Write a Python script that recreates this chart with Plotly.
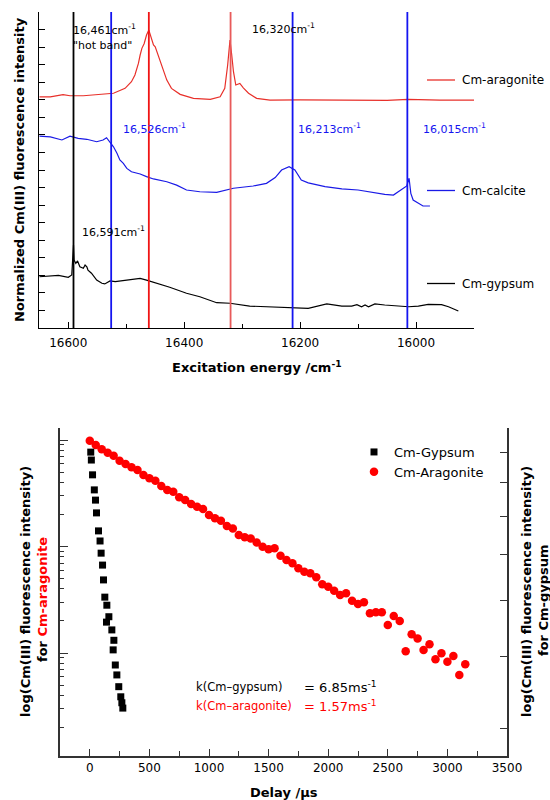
import plotly.graph_objects as go

W, H = 550, 800
FONT = "DejaVu Sans"

# ---------------- top panel: excitation spectra ----------------
arag_x = [16650, 16631, 16609, 16597, 16574, 16545, 16522, 16502, 16491, 16485, 16479, 16476,
          16473, 16469, 16465, 16461, 16458, 16453, 16450, 16447, 16442, 16436, 16430, 16422,
          16407, 16384, 16355, 16338, 16330, 16325, 16321, 16318, 16315, 16311, 16304, 16298,
          16289, 16275, 16252, 16200, 16150, 16100, 16050, 16014, 15959, 15900]
arag_y = [12.17, 12.17, 12.29, 12.23, 12.23, 12.29, 12.37, 12.65, 13.03, 13.41, 14.07, 14.55,
          14.93, 15.21, 15.69, 15.97, 15.69, 15.12, 15.02, 14.73, 14.36, 13.69, 13.12, 12.65,
          12.31, 12.08, 12.02, 12.17, 12.65, 13.98, 15.40, 14.55, 13.60, 12.84, 12.93, 12.68,
          12.37, 12.08, 11.98, 12.00, 11.98, 12.00, 11.97, 12.02, 11.98, 11.98]

calc_x = [16650, 16631, 16611, 16597, 16583, 16568, 16551, 16540, 16534, 16528, 16522, 16516,
          16511, 16505, 16499, 16491, 16482, 16476, 16465, 16453, 16430, 16413, 16396, 16373,
          16344, 16315, 16281, 16258, 16243, 16232, 16219, 16209, 16198, 16186, 16157, 16128,
          16100, 16071, 16054, 16039, 16031, 16022, 16016, 16012, 16009, 16005, 15996, 15988,
          15976]
calc_y = [9.93, 9.89, 9.71, 9.93, 9.80, 9.75, 9.61, 9.71, 9.84, 9.61, 9.32, 8.95,
          8.57, 8.38, 8.09, 7.90, 7.84, 7.77, 7.62, 7.49, 7.33, 7.14, 6.86, 6.76,
          6.73, 6.96, 7.09, 7.24, 7.57, 8.00, 8.19, 8.00, 7.43, 7.27, 7.05, 6.92,
          6.86, 6.70, 6.61, 6.57, 6.76, 6.96, 7.09, 7.53, 6.67, 6.29, 6.10, 5.95,
          5.95]

gyps_x = [16650, 16632, 16617, 16600, 16594, 16591, 16590, 16587, 16584, 16580, 16574, 16571,
          16568, 16566, 16560, 16551, 16542, 16537, 16528, 16519, 16499, 16476, 16465, 16447,
          16425, 16396, 16373, 16344, 16321, 16287, 16243, 16215, 16186, 16154, 16128, 16111,
          16102, 16094, 16088, 16082, 16071, 16054, 16036, 16013, 15996, 15979, 15956, 15944,
          15927]
gyps_y = [1.92, 1.96, 2.00, 1.89, 2.02, 3.73, 2.87, 2.68, 2.82, 2.49, 2.40, 2.59,
          2.49, 2.30, 2.12, 1.73, 1.55, 1.51, 1.68, 1.64, 1.73, 1.83, 1.73, 1.55,
          1.32, 0.98, 0.78, 0.44, 0.41, 0.25, 0.21, 0.18, 0.12, 0.37, 0.25, 0.25,
          0.33, 0.21, 0.31, 0.21, 0.37, 0.31, 0.25, 0.21, 0.25, 0.35, 0.33, 0.21,
          -0.03]

line_pos = [16591, 16526, 16461, 16320, 16213, 16015]
line_cols = ["#000000", "#1414f0", "#f01414", "#e85a5a", "#1414f0", "#1414f0"]

spec_names = ["Cm-aragonite", "Cm-calcite", "Cm-gypsum"]
spec_cols = ["#e8302a", "#1a1ae6", "#000000"]

# ---------------- bottom panel: lifetime decays ----------------
dec_arag_t = [0, 50, 100, 150, 200, 250, 300, 350, 400, 450, 500, 550, 600, 650, 700, 750,
              800, 850, 900, 950, 1000, 1050, 1100, 1150, 1200, 1250, 1300, 1350, 1400, 1450,
              1500, 1550, 1600, 1650, 1700, 1750, 1800, 1850, 1900, 1950, 2000, 2050, 2100,
              2150, 2200, 2250, 2300, 2350, 2400, 2450, 2500, 2550, 2600, 2650, 2700, 2750,
              2800, 2850, 2900, 2950, 3000, 3050, 3100, 3150]
dec_arag_I = [98.5, 89.8, 81.8, 76.0, 71.2, 63.9, 59.5, 55.4, 52.3, 46.9, 43.7, 41.5, 37.0,
              33.9, 32.7, 29.0, 27.3, 25.1, 23.6, 22.5, 19.8, 18.4, 17.5, 15.6, 14.8, 12.8,
              12.2, 11.9, 10.9, 9.96, 9.41, 9.62, 8.20, 7.47, 6.95, 6.24, 5.80, 5.60, 5.14,
              4.42, 4.19, 3.85, 3.50, 3.64, 3.10, 2.88, 2.99, 2.36, 2.41, 2.41, 1.83, 2.23,
              2.00, 1.04, 1.50, 1.37, 1.07, 1.21, 0.873, 0.994, 0.829, 0.937, 0.621, 0.783]

dec_gyps_t = [8, 13, 23, 38, 48, 56, 73, 86, 95, 107, 115, 126, 143, 160, 140, 185, 202, 196,
              214, 227, 243, 260, 269, 277]
dec_gyps_I = [9.03, 8.75, 8.25, 7.77, 7.46, 7.09, 6.60, 6.34, 6.04, 5.76, 5.43, 5.07, 4.91,
              4.69, 4.59, 4.45, 4.27, 4.11, 3.87, 3.72, 3.55, 3.41, 3.33, 3.26]

dec_names = ["Cm-Gypsum", "Cm-Aragonite"]

top_xticks = [16600, 16400, 16200, 16000]
bot_xticks = [0, 500, 1000, 1500, 2000, 2500, 3000, 3500]


def px_x(p):
    return p / W


def px_y(p):
    return 1 - p / H


fig = go.Figure()

# top spectra
for xs, ys, nm, col in [(arag_x, arag_y, spec_names[0], spec_cols[0]),
                        (calc_x, calc_y, spec_names[1], spec_cols[1]),
                        (gyps_x, gyps_y, spec_names[2], spec_cols[2])]:
    fig.add_trace(go.Scatter(x=xs, y=ys, mode="lines", name=nm, showlegend=False,
                             line=dict(color=col, width=1.2), xaxis="x", yaxis="y"))

# bottom decays
fig.add_trace(go.Scatter(x=dec_gyps_t, y=dec_gyps_I, mode="markers", name=dec_names[0],
                         marker=dict(symbol="square", size=7, color="black"),
                         xaxis="x2", yaxis="y3"))
fig.add_trace(go.Scatter(x=dec_arag_t, y=dec_arag_I, mode="markers", name=dec_names[1],
                         marker=dict(symbol="circle", size=8.5, color="#ff0000"),
                         xaxis="x2", yaxis="y2"))

shapes = []
for pos, col in zip(line_pos, line_cols):
    shapes.append(dict(type="line", xref="x", yref="y domain", x0=pos, x1=pos, y0=0, y1=1,
                       line=dict(color=col, width=1.8), layer="above"))

# top legend glyphs (lines) + labels
leg_rows = [80, 190.5, 283.5]
annotations = []
for nm, col, ry in zip(spec_names, spec_cols, leg_rows):
    shapes.append(dict(type="line", xref="paper", yref="paper", x0=px_x(427), x1=px_x(455),
                       y0=px_y(ry), y1=px_y(ry), line=dict(color=col, width=1.3)))
    annotations.append(dict(text=nm, x=px_x(460), y=px_y(ry), xref="paper", yref="paper",
                            xanchor="left", yanchor="middle", showarrow=False,
                            font=dict(family=FONT, size=12, color="black")))


def ann(text, x, y, size=11, color="black", xanchor="left", angle=0):
    annotations.append(dict(text=text, x=px_x(x), y=px_y(y), xref="paper", yref="paper",
                            xanchor=xanchor, yanchor="middle", showarrow=False,
                            textangle=angle, font=dict(family=FONT, size=size, color=color)))


ann("16,461cm<sup>-1</sup>", 71, 29)
ann("\"hot band\"", 71, 45)
ann("16,320cm<sup>-1</sup>", 250, 28)
ann("16,526cm<sup>-1</sup>", 121, 128, color="#1414f0")
ann("16,213cm<sup>-1</sup>", 296, 128, color="#1414f0")
ann("16,015cm<sup>-1</sup>", 421, 128, color="#1414f0")
ann("16,591cm<sup>-1</sup>", 80, 231)

ann("k(Cm\u2013gypsum)", 194, 687, size=11.5)
ann("= 6.85ms<sup>-1</sup>", 302, 687, size=13)
ann("k(Cm\u2013aragonite)", 194, 706, size=11.5, color="#ff0000")
ann("= 1.57ms<sup>-1</sup>", 302, 706, size=13, color="#ff0000")

# axis titles
ann("<b>Normalized Cm(III) fluorescence intensity</b>", 19, 170, size=13,
    xanchor="center", angle=-90)
ann("<b>Excitation energy /cm<sup>-1</sup></b>", 256.5, 367, size=13, xanchor="center")
ann("<b>Delay /µs</b>", 283.5, 792, size=13, xanchor="center")
ann("<b>log(Cm(III) fluorescence intensity)</b>", 25, 592, size=13,
    xanchor="center", angle=-90)
ann("<b>for <span style='color:#ff0000'>Cm-aragonite</span></b>", 42, 600, size=13,
    xanchor="center", angle=-90)
ann("<b>log(Cm(III) fluorescence intensity)</b>", 526, 592, size=13,
    xanchor="center", angle=-90)
ann("<b>for Cm-gypsum</b>", 543, 600, size=13, xanchor="center", angle=-90)

axis_common = dict(showgrid=False, zeroline=False, showline=True, ticks="inside",
                   automargin=False,
                   tickfont=dict(family=FONT, size=12, color="black"))

fig.update_layout(
    template="none",
    width=W, height=H, autosize=False,
    margin=dict(l=0, r=0, t=0, b=0, pad=0, autoexpand=False),
    paper_bgcolor="white", plot_bgcolor="white",
    font=dict(family=FONT, size=12, color="black"),
    shapes=shapes, annotations=annotations,
    showlegend=True,
    legend=dict(x=px_x(354), y=px_y(437), xanchor="left", yanchor="top",
                bgcolor="rgba(0,0,0,0)", borderwidth=0, font=dict(family=FONT, size=13),
                traceorder="normal", itemsizing="trace"),
    xaxis=dict(domain=[px_x(39.3), px_x(474)], range=[16650, 15900], anchor="y",
               tickmode="array", tickvals=top_xticks,
               ticktext=[str(v) for v in top_xticks], ticklen=6, tickwidth=1.2,
               ticklabelstandoff=3,
               linecolor="black", linewidth=1.3, tickcolor="black",
               minor=dict(ticks="inside", dtick=100, tick0=15900, ticklen=4,
                          tickcolor="black", tickwidth=1.2),
               **axis_common),
    yaxis=dict(domain=[px_y(328), px_y(12)], range=[-1, 17], anchor="x",
               tickmode="linear", tick0=0, dtick=1, ticklen=6, tickwidth=1.2,
               showticklabels=False, linecolor="black", linewidth=1.3, tickcolor="black",
               **axis_common),
    xaxis2=dict(domain=[px_x(60), px_x(507)], range=[-250, 3500], anchor="y2",
                tickmode="array", tickvals=bot_xticks,
                ticktext=[str(v) for v in bot_xticks], ticklen=7, tickwidth=1.3,
                linecolor="#333333", linewidth=1.6, tickcolor="#333333",
                minor=dict(ticks="inside", dtick=250, tick0=0, ticklen=5,
                           tickcolor="#333333", tickwidth=1.3),
                **axis_common),
    yaxis2=dict(domain=[px_y(756), px_y(428)], type="log", range=[-0.967, 2.113],
                anchor="x2", tickmode="array", tickvals=[1, 10, 100], ticklen=8,
                tickwidth=1.3, showticklabels=False, linecolor="#333333", linewidth=1.6,
                tickcolor="#333333",
                minor=dict(ticks="inside", tickmode="array",
                           tickvals=[0.2, 0.3, 0.4, 0.5, 0.6, 0.7, 0.8, 0.9,
                                     2, 3, 4, 5, 6, 7, 8, 9, 20, 30, 40, 50, 60, 70, 80, 90],
                           ticklen=4, tickcolor="#333333", tickwidth=1.2),
                **axis_common),
    yaxis3=dict(overlaying="y2", side="right", anchor="x2", type="log",
                range=[0.4304, 0.9974], tickmode="array", tickvals=[3, 4, 5, 6, 7, 8, 9],
                ticklen=7, tickwidth=1.3, showticklabels=False, linecolor="#333333",
                linewidth=1.6, tickcolor="#333333", **axis_common),
)

post = "document.body.style.margin='0';document.documentElement.style.overflow='hidden';"

fig.write_html("out.html", config={"responsive": False}, post_script=post)
